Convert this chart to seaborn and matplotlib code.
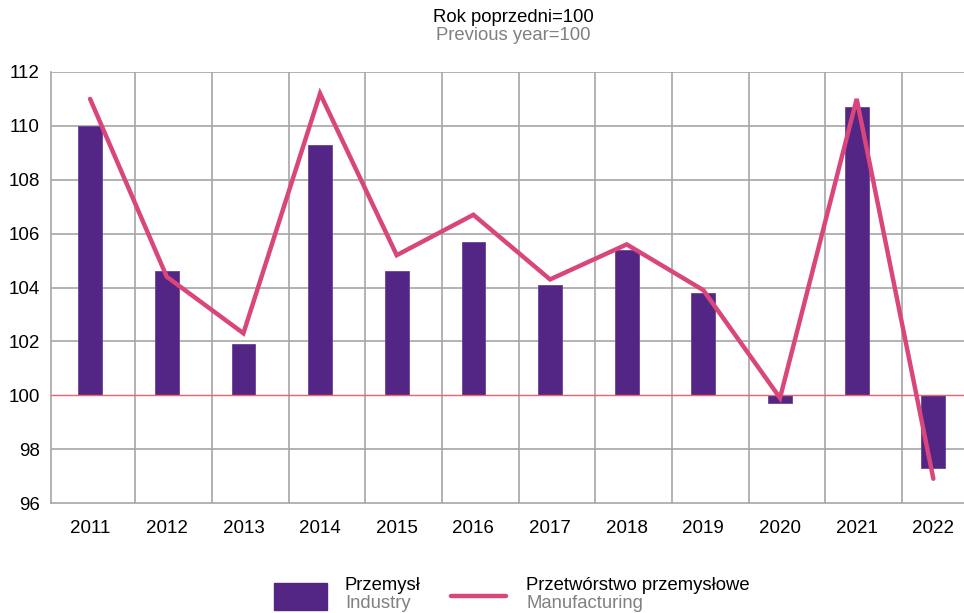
import numpy as np
import seaborn as sns
import matplotlib.pyplot as plt
from matplotlib.patches import Rectangle
from matplotlib.lines import Line2D

# data (previous year = 100)
years = ["2011", "2012", "2013", "2014", "2015", "2016",
         "2017", "2018", "2019", "2020", "2021", "2022"]
industry = [110.0, 104.6, 101.9, 109.3, 104.6, 105.7,
            104.1, 105.4, 103.8, 99.7, 110.7, 97.3]
manufacturing = [111.0, 104.4, 102.3, 111.2, 105.2, 106.7,
                 104.3, 105.6, 103.9, 99.9, 111.0, 96.9]
yticks = [96, 98, 100, 102, 104, 106, 108, 110, 112]

bar_color = "#532584"
line_color = "#d9467c"
grid_color = "#a6a6a6"

sns.set_style("white")
plt.rcParams["font.family"] = ["Liberation Sans", "DejaVu Sans"]

fig = plt.figure(figsize=(9.64, 6.13), dpi=100)
ax = fig.add_axes([51 / 964, 1 - 503 / 613, 1 - 51 / 964, (503 - 72) / 613])

base = 100
sns.barplot(x=years, y=[v - base for v in industry], bottom=base,
            color=bar_color, width=0.31, saturation=1, ax=ax, zorder=2,
            edgecolor="#6a4395", linewidth=0.6)
pos = np.arange(len(years))
sns.lineplot(x=pos, y=manufacturing, color=line_color, linewidth=3.2,
             ax=ax, zorder=4, solid_capstyle="round", solid_joinstyle="miter")

ax.axhline(base, color="#f2606e", linewidth=1.0, zorder=3)

ax.set_ylim(96, 112)
ax.set_xlim(-0.51, 11.40)
ax.set_yticks(yticks)
ax.set_xticks(pos)
ax.set_xticklabels(years)
ax.set_xticks(pos[:-1] + 0.59, minor=True)
ax.grid(False)
for y in yticks[1:]:
    if y != base:
        ax.axhline(y, color=grid_color, linewidth=1.2, zorder=1)
ax.grid(True, which="minor", axis="x", color=grid_color, linewidth=1.2, zorder=1)
ax.tick_params(axis="both", which="both", length=0, labelsize=13.5, colors="black")
ax.tick_params(axis="x", pad=12)
ax.tick_params(axis="y", pad=8)
ax.set_xlabel("")
ax.set_ylabel("")
for s in ["top", "right"]:
    ax.spines[s].set_visible(False)
for s in ["left", "bottom"]:
    ax.spines[s].set_color(grid_color)
    ax.spines[s].set_linewidth(1.2)

# title
fig.text(513 / 964, 1 - 17 / 613, "Rok poprzedni=100", ha="center", va="center",
         fontsize=13.3, color="black")
fig.text(513 / 964, 1 - 36 / 613, "Previous year=100", ha="center", va="center",
         fontsize=13.3, color="#808080")

# legend
fig.patches.append(Rectangle((274 / 964, 1 - 610 / 613), 53 / 964, 27 / 613,
                             transform=fig.transFigure, color=bar_color))
fig.lines.append(Line2D([451 / 964, 506 / 964], [1 - 596 / 613] * 2,
                        transform=fig.transFigure, color=line_color,
                        linewidth=3.2, solid_capstyle="round"))
fig.text(345 / 964, 1 - 585 / 613, "Przemysł", ha="left", va="center",
         fontsize=13.3, color="black")
fig.text(345 / 964, 1 - 603 / 613, "Industry", ha="left", va="center",
         fontsize=13.3, color="#808080")
fig.text(526 / 964, 1 - 585 / 613, "Przetwórstwo przemysłowe", ha="left",
         va="center", fontsize=13.3, color="black")
fig.text(526 / 964, 1 - 603 / 613, "Manufacturing", ha="left", va="center",
         fontsize=13.3, color="#808080")

fig.savefig("out.png", dpi=100)
